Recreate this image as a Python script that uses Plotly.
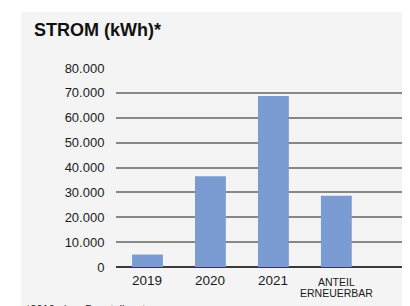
import plotly.graph_objects as go

categories = ["2019", "2020", "2021", "ANTEIL\nERNEUERBAR"]
values = [5000, 36500, 68700, 28600]
y_ticks = [0, 10000, 20000, 30000, 40000, 50000, 60000, 70000, 80000]
title_text = "STROM (kWh)*"
footnote = "*2019 ohne Baustellenstrom"

# page body adds an 8px offset; lay out in reference pixels minus this
OFF = 8
W, H = 402, 298
ML = 116 - OFF
MT = 68 - OFF
MB = H - (267 - OFF)
MR = 0
PW = W - ML - MR
PH = H - MT - MB

def px_x(px):
    return (px - OFF - ML) / PW

def px_y(py):
    return (H - MB - (py - OFF)) / PH

REG = "Liberation Sans, Arial, Helvetica, sans-serif"

fig = go.Figure()
fig.add_trace(go.Bar(
    x=categories, y=values, width=0.49,
    marker=dict(color="#7b9bd3", line=dict(width=0)),
    hoverinfo="skip",
))

annotations = []
for idx, cat in enumerate(categories):
    lines = cat.split("\n")
    multi = len(lines) > 1
    for i, ln in enumerate(lines):
        annotations.append(dict(
            x=idx, y=0, xref="x", yref="y", text=ln, showarrow=False,
            xanchor="center", yanchor="middle",
            yshift=-(15 + i * 10.5) if multi else -13,
            font=dict(family=REG, size=10.5 if multi else 13.5, color="#1a1a1a"),
        ))

annotations.append(dict(
    x=px_x(32), y=px_y(30), xref="paper", yref="paper", text="<b>" + title_text + "</b>",
    showarrow=False, xanchor="left", yanchor="middle",
    font=dict(family=REG, size=18, color="#111111"),
))
annotations.append(dict(
    x=px_x(24), y=px_y(301), xref="paper", yref="paper", text=footnote,
    showarrow=False, xanchor="left", yanchor="top",
    font=dict(family=REG, size=11, color="#222222"),
))

fig.update_layout(
    width=W, height=H,
    margin=dict(l=ML, r=MR, t=MT, b=MB, pad=0),
    paper_bgcolor="white",
    plot_bgcolor="#f4f4f4",
    separators=",.",
    showlegend=False,
    annotations=annotations,
    shapes=[dict(
        type="rect", xref="paper", yref="paper",
        x0=px_x(21), x1=px_x(W + 20), y0=px_y(H + 20), y1=px_y(12),
        fillcolor="#f4f4f4", line=dict(width=0), layer="below",
    )],
    xaxis=dict(
        type="category", range=[-0.5, -0.5 + PW / 62.96],
        showticklabels=False, showgrid=False, zeroline=False,
        showline=False, ticks="",
    ),
    yaxis=dict(
        range=[0, 80000], tickvals=y_ticks, tickformat=",d",
        showgrid=True, gridcolor="#878787", gridwidth=2,
        zeroline=True, zerolinecolor="#3a3a3a", zerolinewidth=2,
        ticks="outside", ticklen=8, tickcolor="rgba(0,0,0,0)",
        tickfont=dict(family=REG, size=13, color="#1a1a1a"),
        showline=False,
    ),
)

fig.write_html("out.html")
